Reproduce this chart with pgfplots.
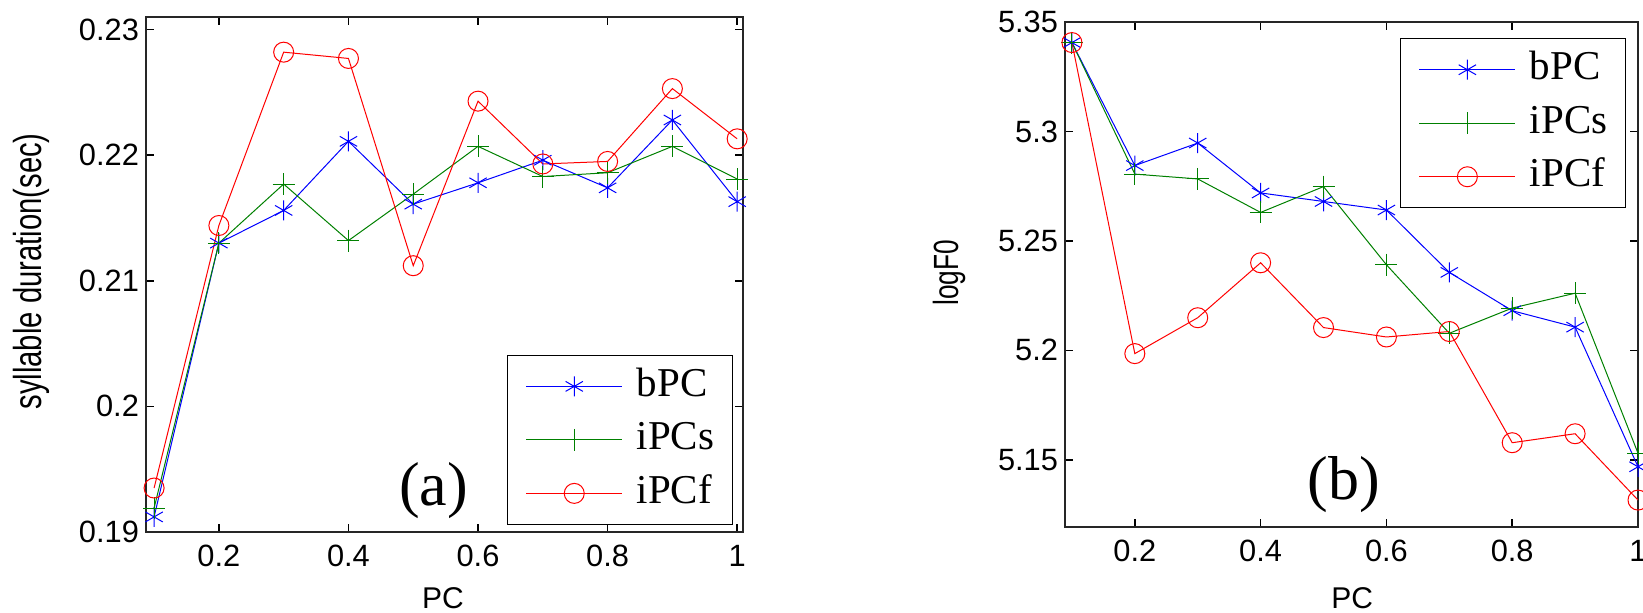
\documentclass[border=0pt]{standalone}
\usepackage{graphicx}
\usepackage{fontspec}
\setmainfont{Liberation Sans}
\newfontfamily\tnr{Liberation Serif}
\usepackage{pgfplots}
\pgfplotsset{compat=1.18}
\definecolor{mgreen}{rgb}{0,0.5,0}

\pgfplotsset{
  matfig/.style={
    scale only axis,
    axis line style={line width=0.8pt, black!85},
    tick align=inside,
    major tick length=4pt,
    tick style={black, line width=0.8pt},
    xmin=0.0875, xmax=1.009,
    xtick={0.2,0.4,0.6,0.8,1},
    xticklabels={0.2,0.4,0.6,0.8,1},
    tick label style={font=\fontsize{15.4}{18}\selectfont},
    xticklabel style={yshift=-3pt},
    xlabel={\fontsize{15}{18}\selectfont PC},
    legend cell align=left,
    legend image code/.code={%
      \draw[#1,mark repeat=2,mark phase=2] plot coordinates {(0pt,0pt) (24pt,0pt) (48pt,0pt)};},
    legend style={draw=black, line width=0.6pt,
      font=\tnr\fontsize{20.5}{22}\selectfont,
      nodes={inner sep=0pt, text height=14pt, text depth=4pt},
      row sep=8.75pt, column sep=7pt,
      inner xsep=9pt, inner ysep=6.5pt},
    every axis plot/.append style={line width=0.5pt},
    bpc/.style={blue, mark=asterisk, mark size=5pt, mark options={solid}},
    ipcs/.style={mgreen, mark=+, mark size=5.5pt, mark options={solid}},
    ipcf/.style={red, mark=o, mark size=5pt, mark options={solid}},
  }
}

\begin{document}
\begin{tikzpicture}
\path[use as bounding box] (0,0) rectangle (821.5pt,306.5pt);

% (a) syllable duration
\begin{axis}[matfig,
  at={(73pt,40.5pt)}, anchor=south west,
  width=298.5pt, height=257.5pt,
  ymin=0.19, ymax=0.231,
  ytick={0.19,0.2,0.21,0.22,0.23},
  yticklabels={0.19,0.2,0.21,0.22,0.23},
  ylabel={\fontsize{19.5}{20}\selectfont\scalebox{0.75}[1]{syllable duration(sec)}},
  ylabel style={at={(axis description cs:-0.192,0.506)}, anchor=center},
  xlabel style={at={(axis description cs:0.4975,-0.149)}, anchor=base},
  legend style={at={(axis description cs:0.983,0.0136)}, anchor=south east},
]
\addplot[bpc] coordinates {(0.1,0.1912) (0.2,0.2130) (0.3,0.2156) (0.4,0.2211) (0.5,0.2161)
  (0.6,0.2178) (0.7,0.2196) (0.8,0.2174) (0.9,0.2228) (1.0,0.2163)};
\addlegendentry{bPC}
\addplot[ipcs] coordinates {(0.1,0.1919) (0.2,0.2130) (0.3,0.2177) (0.4,0.2132) (0.5,0.2169)
  (0.6,0.2207) (0.7,0.2183) (0.8,0.2186) (0.9,0.2207) (1.0,0.2181)};
\addlegendentry{iPCs}
\addplot[ipcf] coordinates {(0.1,0.1935) (0.2,0.2144) (0.3,0.2282) (0.4,0.2277) (0.5,0.2112)
  (0.6,0.2243) (0.7,0.2193) (0.8,0.2195) (0.9,0.2253) (1.0,0.2213)};
\addlegendentry{iPCf}
\node[font=\tnr\fontsize{31}{31}\selectfont] at (axis description cs:0.482,0.080) {(a)};
\end{axis}

% (b) logF0
\begin{axis}[matfig,
  at={(532.5pt,43pt)}, anchor=south west,
  width=286.5pt, height=252.5pt,
  xmin=0.089, xmax=1.0,
  ymin=5.1193, ymax=5.35,
  ytick={5.15,5.2,5.25,5.3,5.35},
  yticklabels={5.15,5.2,5.25,5.3,5.35},
  ylabel={\fontsize{17.5}{18}\selectfont\scalebox{0.75}[1]{logF0}},
  ylabel style={at={(axis description cs:-0.201,0.503)}, anchor=center},
  xlabel style={at={(axis description cs:0.501,-0.161)}, anchor=base},
  legend style={at={(axis description cs:0.979,0.968)}, anchor=north east},
]
\addplot[bpc] coordinates {(0.1,5.3406) (0.2,5.2844) (0.3,5.2947) (0.4,5.2719) (0.5,5.2680)
  (0.6,5.2641) (0.7,5.2356) (0.8,5.2181) (0.9,5.2106) (1.0,5.1468)};
\addlegendentry{bPC}
\addplot[ipcs] coordinates {(0.1,5.3406) (0.2,5.2805) (0.3,5.2783) (0.4,5.2630) (0.5,5.2748)
  (0.6,5.2391) (0.7,5.2078) (0.8,5.2193) (0.9,5.2261) (1.0,5.1530)};
\addlegendentry{iPCs}
\addplot[ipcf] coordinates {(0.1,5.3406) (0.2,5.1985) (0.3,5.2149) (0.4,5.2400) (0.5,5.2104)
  (0.6,5.2061) (0.7,5.2086) (0.8,5.1578) (0.9,5.1619) (1.0,5.1316)};
\addlegendentry{iPCf}
\node[font=\tnr\fontsize{31}{31}\selectfont] at (axis description cs:0.487,0.083) {(b)};
\end{axis}
\end{tikzpicture}
\end{document}
